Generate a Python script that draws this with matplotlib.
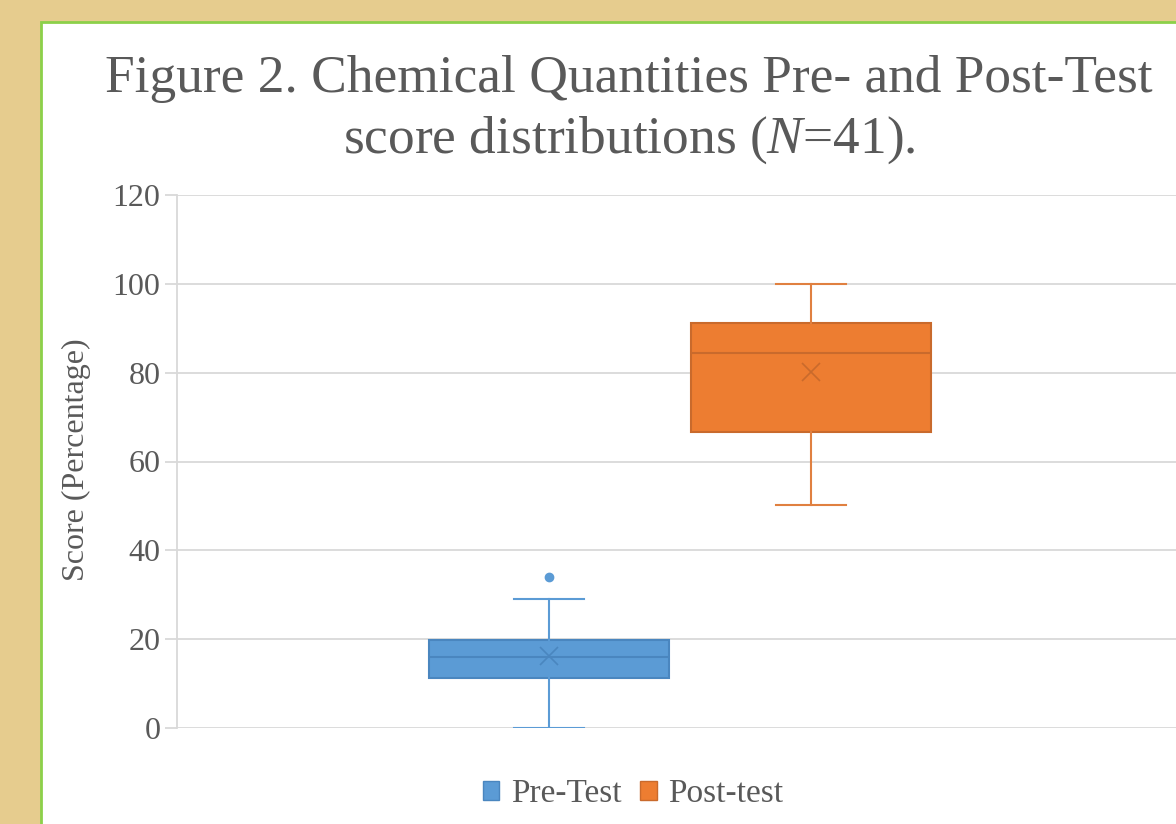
import matplotlib
matplotlib.use("Agg")
import matplotlib.pyplot as plt
from matplotlib.patches import Rectangle, Patch

# ---- data ----
categories = ["Pre-Test", "Post-test"]
whislo = [0.0, 50.2]
q1 = [11.3, 66.7]
med = [16.0, 84.4]
q3 = [19.8, 91.2]
whishi = [29.0, 100.0]
means = [16.1, 80.2]
fliers = [[34.0], []]
yticks = [0, 20, 40, 60, 80, 100, 120]

fills = ["#5B9BD5", "#ED7D31"]
edges = ["#4A86BF", "#C96A2C"]
whisk = ["#5B9BD5", "#E08040"]

plt.rcParams["font.family"] = ["Liberation Serif", "DejaVu Serif"]
plt.rcParams["mathtext.fontset"] = "custom"
plt.rcParams["mathtext.rm"] = "Liberation Serif"
plt.rcParams["mathtext.it"] = "Liberation Serif:italic"

W, H = 1176, 824
fig = plt.figure(figsize=(W / 100, H / 100), dpi=100)
fig.patch.set_facecolor("#E6CC8E")

# white chart panel with green border
panel = Rectangle((41 / W, -0.05), 1.1, 1 - 22 / H + 0.05, transform=fig.transFigure,
                  facecolor="white", edgecolor="#8CD04A", linewidth=2, zorder=-10)
fig.patches.append(panel)

ax_left, ax_right = 177 / W, 1.0
ax_bottom, ax_top = (H - 728) / H, (H - 195) / H
ax = fig.add_axes([ax_left, ax_bottom, ax_right - ax_left, ax_top - ax_bottom])
ax.set_zorder(5)
ax.set_facecolor("none")

stats = []
for i, c in enumerate(categories):
    stats.append(dict(label=c, whislo=whislo[i], q1=q1[i], med=med[i], q3=q3[i],
                      whishi=whishi[i], mean=means[i], fliers=fliers[i]))

positions = list(range(len(categories)))
for i, s in enumerate(stats):
    ax.bxp([s], positions=[positions[i]], widths=0.916, patch_artist=True,
           showmeans=True, showfliers=True,
           boxprops=dict(facecolor=fills[i], edgecolor=edges[i], linewidth=1.5),
           medianprops=dict(color=edges[i], linewidth=1.5),
           whiskerprops=dict(color=whisk[i], linewidth=1.5),
           capprops=dict(color=whisk[i], linewidth=1.5),
           capwidths=0.268,
           meanprops=dict(marker="x", markersize=13, markeredgecolor=edges[i],
                          markeredgewidth=1.2, linestyle="none"),
           flierprops=dict(marker="o", markersize=6, markerfacecolor=fills[i],
                           markeredgecolor=fills[i]),
           zorder=3)

ax.set_xlim((177 - 549) / 262, (1176 - 549) / 262)
ax.set_ylim(0, 120)
ax.set_yticks(yticks)
ax.set_yticklabels([str(t) for t in yticks])
ax.set_xticks([])
ax.grid(axis="y", color="#D9D9D9", linewidth=1.3, zorder=0)
ax.set_axisbelow(True)
for side in ["top", "right", "bottom"]:
    ax.spines[side].set_visible(False)
ax.spines["left"].set_color("#D9D9D9")
ax.spines["left"].set_linewidth(1.3)
ax.tick_params(axis="y", length=9, width=1.3, color="#D9D9D9", labelsize=23,
               labelcolor="#595959", pad=3)

fig.text(629 / W, 1 - 92 / H, "Figure 2. Chemical Quantities Pre- and Post-Test",
         ha="center", va="baseline", fontsize=38.4, color="#595959")
fig.text(629 / W, 1 - 153 / H, r"score distributions ($\mathit{N}$=41).",
         ha="center", va="baseline", fontsize=38.4, color="#595959")

fig.text(76 / W, 1 - 460 / H, "Score (Percentage)", rotation=90, ha="center",
         va="center", fontsize=23, color="#595959")

handles = [Patch(facecolor=fills[i], edgecolor=edges[i], label=categories[i])
           for i in range(len(categories))]
fig.legend(handles=handles, loc="center", bbox_to_anchor=(633 / W, 1 - 794 / H),
           ncol=2, frameon=False, fontsize=24, labelcolor="#595959",
           handlelength=0.5, handleheight=0.5, handletextpad=0.35, columnspacing=0.55)

fig.savefig("out.png", dpi=100, facecolor=fig.get_facecolor())
